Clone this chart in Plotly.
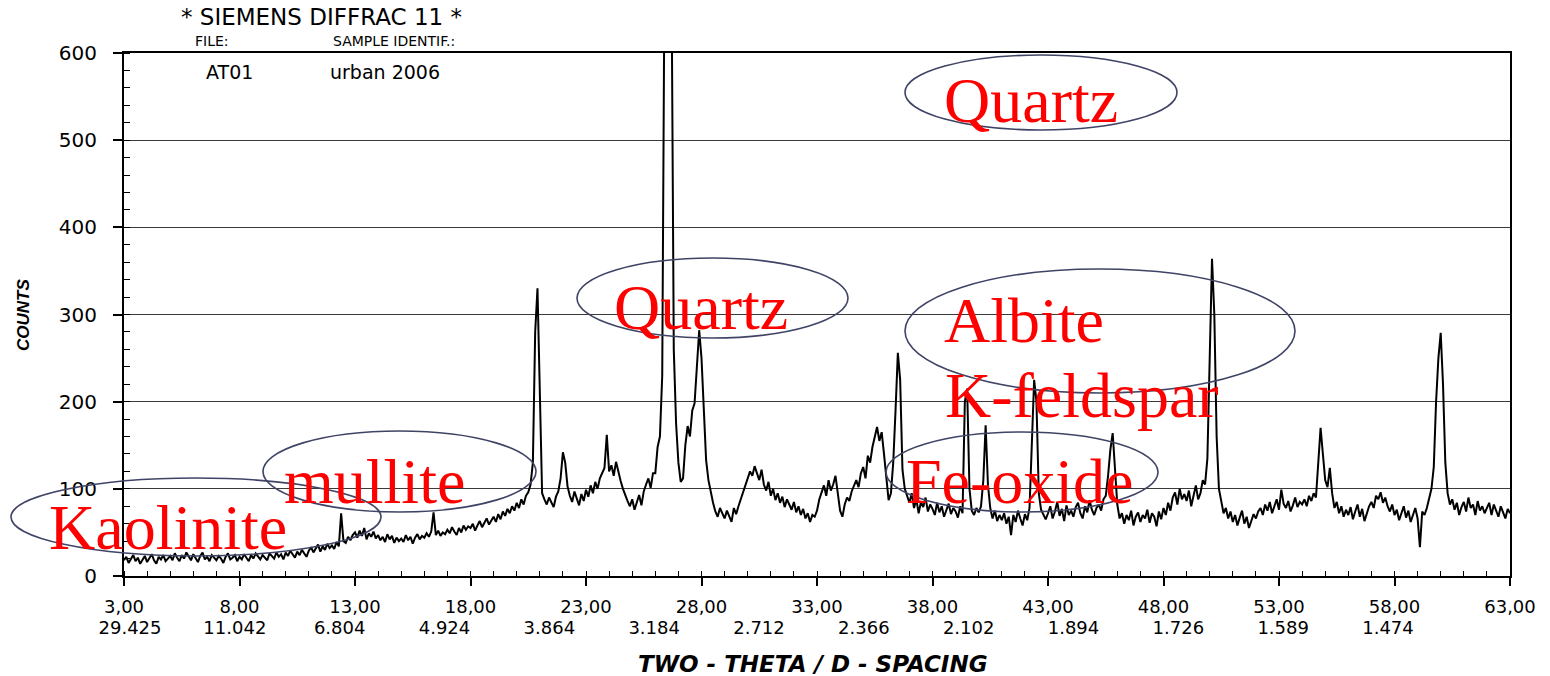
import plotly.graph_objects as go

# ---------------- DATA ----------------
two_theta_start = 3.0
two_theta_step = 0.1

counts_03_13 = [
    18, 22, 15, 20, 24, 17, 21, 14, 19, 23,
    16, 21, 25, 18, 14, 22, 19, 24, 17, 20,
    23, 18, 26, 21, 17, 24, 20, 27, 22, 18,
    25, 20, 16, 23, 27, 19, 22, 17, 24, 21,
    18, 23, 20, 15, 22, 26, 19, 21, 24, 17,
    22, 19, 25, 21, 17, 24, 20, 26, 22, 19,
    24, 21, 18, 26, 23, 20, 27, 22, 25, 19,
    27, 23, 29, 25, 21, 28, 24, 30, 26, 22,
    29, 33, 27, 31, 36, 28, 34, 30, 37, 32,
    35, 31, 39, 34, 72, 40, 38, 45, 41, 47,
]
counts_13_23 = [
    50, 44, 52, 46, 55, 42, 49, 45, 51, 43,
    47, 41, 45, 39, 48, 42, 46, 38, 44, 40,
    43, 39, 47, 41, 45, 37, 44, 48, 42, 46,
    44, 49, 45, 51, 73, 47, 52, 46, 50, 48,
    53, 49, 56, 51, 47, 55, 50, 58, 53, 57,
    55, 60, 52, 58, 63, 56, 61, 66, 59, 64,
    68, 62, 71, 65, 74, 69, 77, 72, 80, 75,
    84, 78, 88, 82, 92, 96, 105, 130, 280, 330,
    200, 95, 88, 82, 90, 85, 79, 91, 97, 112,
    142, 130, 103, 92, 85, 97, 88, 81, 94, 86,
]
counts_23_33 = [
    99, 91, 104, 95, 108, 100, 112, 118, 124, 162,
    120, 127, 115, 131, 118, 109, 100, 92, 86, 80,
    88, 76, 84, 93, 81, 97, 105, 112, 101, 118,
    118, 148, 160, 230, 700, 1200, 1100, 700, 260, 175,
    130, 108, 112, 150, 172, 160, 190, 198, 235, 282,
    250, 190, 133, 110, 95, 84, 74, 68, 78, 71,
    66, 75, 69, 62, 78, 71, 80, 88, 95, 103,
    112, 120, 115, 126, 118, 110, 122, 105, 98, 108,
    92, 100, 87, 95, 84, 91, 79, 88, 82, 76,
    85, 73, 80, 70, 77, 66, 72, 62, 70, 68,
]
counts_33_43 = [
    75, 88, 96, 104, 92, 110, 98, 105, 115, 96,
    75, 68, 82, 90, 86, 97, 104, 110, 102, 118,
    125, 112, 138, 130, 148, 160, 171, 155, 165, 140,
    110, 87, 95, 130, 190, 256, 225, 122, 100, 91,
    84, 95, 78, 88, 72, 85, 79, 90, 74, 82,
    77, 70, 84, 73, 80, 68, 76, 83, 71, 78,
    74, 67, 80, 72, 200, 215, 100, 75, 70, 78,
    73, 80, 110, 173, 105, 78, 66, 75, 63, 70,
    64, 72, 60, 68, 47, 70, 62, 75, 66, 58,
    71, 64, 78, 150, 225, 200, 95, 76, 70, 65,
]
counts_43_53 = [
    72, 80, 66, 74, 85, 69, 77, 63, 81, 70,
    75, 68, 79, 84, 72, 66, 80, 73, 87, 76,
    70, 78, 82, 75, 88, 92, 115, 145, 164, 120,
    82, 66, 72, 60, 70, 64, 75, 58, 68, 73,
    62, 70, 66, 76, 61, 72, 68, 57, 74, 65,
    78, 70, 84, 75, 90, 96, 82, 100, 88, 94,
    86, 98, 80, 92, 104, 88, 95, 110, 105, 135,
    250, 364, 300, 160, 100, 85, 72, 78, 66, 74,
    62, 70, 58, 67, 75, 60, 68, 55, 64, 71,
    66, 74, 78, 70, 82, 75, 85, 72, 80, 88,
]
counts_53_63 = [
    76, 99, 83, 78, 86, 74, 81, 90, 79, 85,
    82, 88, 80, 92, 86, 95, 90, 137, 170, 140,
    110, 102, 124, 95, 78, 85, 72, 80, 68, 76,
    70, 79, 65, 74, 82, 68, 77, 63, 72, 80,
    85, 78, 92, 88, 96, 84, 90, 80, 74, 82,
    70, 76, 64, 73, 80, 67, 75, 62, 71, 78,
    66, 33, 74, 70, 78, 90, 100, 125, 200, 250,
    279, 220, 130, 95, 82, 88, 76, 84, 70, 79,
    85, 74, 90, 78, 82, 70, 86, 75, 80, 72,
    78, 84, 70, 82, 75, 68, 80, 73, 66, 77,
    72,
]

tick_2theta = [3, 8, 13, 18, 23, 28, 33, 38, 43, 48, 53, 58, 63]
tick_2theta_text = ["3,00", "8,00", "13,00", "18,00", "23,00", "28,00", "33,00",
                    "38,00", "43,00", "48,00", "53,00", "58,00", "63,00"]
tick_dspacing_text = ["29.425", "11.042", "6.804", "4.924", "3.864", "3.184", "2.712",
                      "2.366", "2.102", "1.894", "1.726", "1.589", "1.474"]
y_ticks = [0, 100, 200, 300, 400, 500, 600]

phase_labels = ["Quartz", "Quartz", "Albite", "K-feldspar", "Fe-oxide", "mullite", "Kaolinite"]

# ---------------- BUILD ----------------
counts = counts_03_13 + counts_13_23 + counts_23_33 + counts_33_43 + counts_43_53 + counts_53_63
two_theta = [round(two_theta_start + i * two_theta_step, 2) for i in range(len(counts))]

W, H = 1550, 676
L, R, T, B = 124, 40, 53, 100
PW, PH = W - L - R, H - T - B


def px(x):
    return (x - L) / PW


def py(y):
    return (H - B - y) / PH


fig = go.Figure()
fig.add_trace(go.Scatter(x=two_theta, y=counts, mode="lines",
                         line=dict(color="black", width=2), showlegend=False,
                         hoverinfo="skip"))
# invisible trace to activate the second (d-spacing) x axis
fig.add_trace(go.Scatter(x=[3, 63], y=[0, 0], xaxis="x2", mode="lines",
                         line=dict(width=0), showlegend=False, hoverinfo="skip"))

xtick_font = dict(family="DejaVu Sans", size=18, color="black")
ytick_font = dict(family="DejaVu Sans", size=20, color="black")

fig.update_layout(
    width=W, height=H,
    margin=dict(l=L, r=R, t=T, b=B, autoexpand=False),
    paper_bgcolor="white", plot_bgcolor="white",
    xaxis=dict(
        range=[3, 63], tickmode="array", tickvals=tick_2theta, ticktext=tick_2theta_text,
        ticks="outside", ticklen=8, tickwidth=1.5, tickcolor="black",
        showline=True, linecolor="black", linewidth=2, mirror=True,
        showgrid=False, zeroline=False, tickfont=xtick_font, automargin=False,
        ticklabelstandoff=5,
        minor=dict(tickmode="linear", tick0=3, dtick=1, ticks="inside", ticklen=5,
                   tickwidth=1.2, tickcolor="black", showgrid=False),
    ),
    xaxis2=dict(
        range=[2.714, 68.818], overlaying="x", anchor="y", side="bottom",
        tickmode="array", tickvals=tick_2theta, ticktext=tick_dspacing_text,
        ticks="", showline=False, showgrid=False, zeroline=False,
        tickfont=xtick_font, automargin=False, ticklabelstandoff=39,
    ),
    yaxis=dict(
        range=[0, 600], tickmode="array", tickvals=y_ticks,
        ticks="outside", ticklen=9, tickwidth=1.5, tickcolor="black",
        showline=True, linecolor="black", linewidth=2, mirror=True,
        showgrid=True, gridcolor="#3a3a3a", gridwidth=1.2, zeroline=False,
        tickfont=ytick_font, automargin=False, ticklabelstandoff=12,
        minor=dict(tickmode="linear", tick0=0, dtick=20, ticks="inside", ticklen=6,
                   tickwidth=1.2, tickcolor="black", showgrid=False),
    ),
)

# ellipses (pixel boxes)
ellipses = [
    (11, 478, 381, 556),
    (263, 431, 536, 512),
    (577, 258, 848, 338),
    (905, 55, 1177, 130),
    (905, 269, 1295, 393),
    (886, 432, 1158, 512),
]
for x0, y0, x1, y1 in ellipses:
    fig.add_shape(type="circle", xref="paper", yref="paper",
                  x0=px(x0), x1=px(x1), y0=py(y1), y1=py(y0),
                  line=dict(color="#3f4466", width=1.6), layer="above")

# phase labels (centre px positions)
label_pos = [(1031, 101), (701, 307), (1024, 320), (1082, 395), (1020, 481), (374, 481), (168, 527)]
for txt, (cx, cy) in zip(phase_labels, label_pos):
    fig.add_annotation(text=txt, xref="paper", yref="paper", x=px(cx), y=py(cy),
                       xanchor="center", yanchor="middle", showarrow=False,
                       font=dict(family="Liberation Serif", size=64, color="red"))

# header texts
hdr = [
    ("* SIEMENS DIFFRAC 11 *", 321, 17, 23),
    ("FILE:", 212, 41, 14),
    ("SAMPLE IDENTIF.:", 394, 41, 14),
    ("AT01", 229, 72, 19),
    ("urban 2006", 385, 72, 19),
]
for txt, cx, cy, fs in hdr:
    fig.add_annotation(text=txt, xref="paper", yref="paper", x=px(cx), y=py(cy),
                       xanchor="center", yanchor="middle", showarrow=False,
                       font=dict(family="DejaVu Sans", size=fs, color="black"))

# axis titles
fig.add_annotation(text="<b><i>COUNTS</i></b>", xref="paper", yref="paper",
                   x=px(23), y=py(315), xanchor="center", yanchor="middle",
                   showarrow=False, textangle=-90,
                   font=dict(family="Liberation Sans", size=17, color="black"))
fig.add_annotation(text="<b><i>TWO - THETA / D - SPACING</i></b>", xref="paper", yref="paper",
                   x=px(813), y=py(664), xanchor="center", yanchor="middle",
                   showarrow=False,
                   font=dict(family="DejaVu Sans", size=23, color="black"))

fig.write_html("out.html")
